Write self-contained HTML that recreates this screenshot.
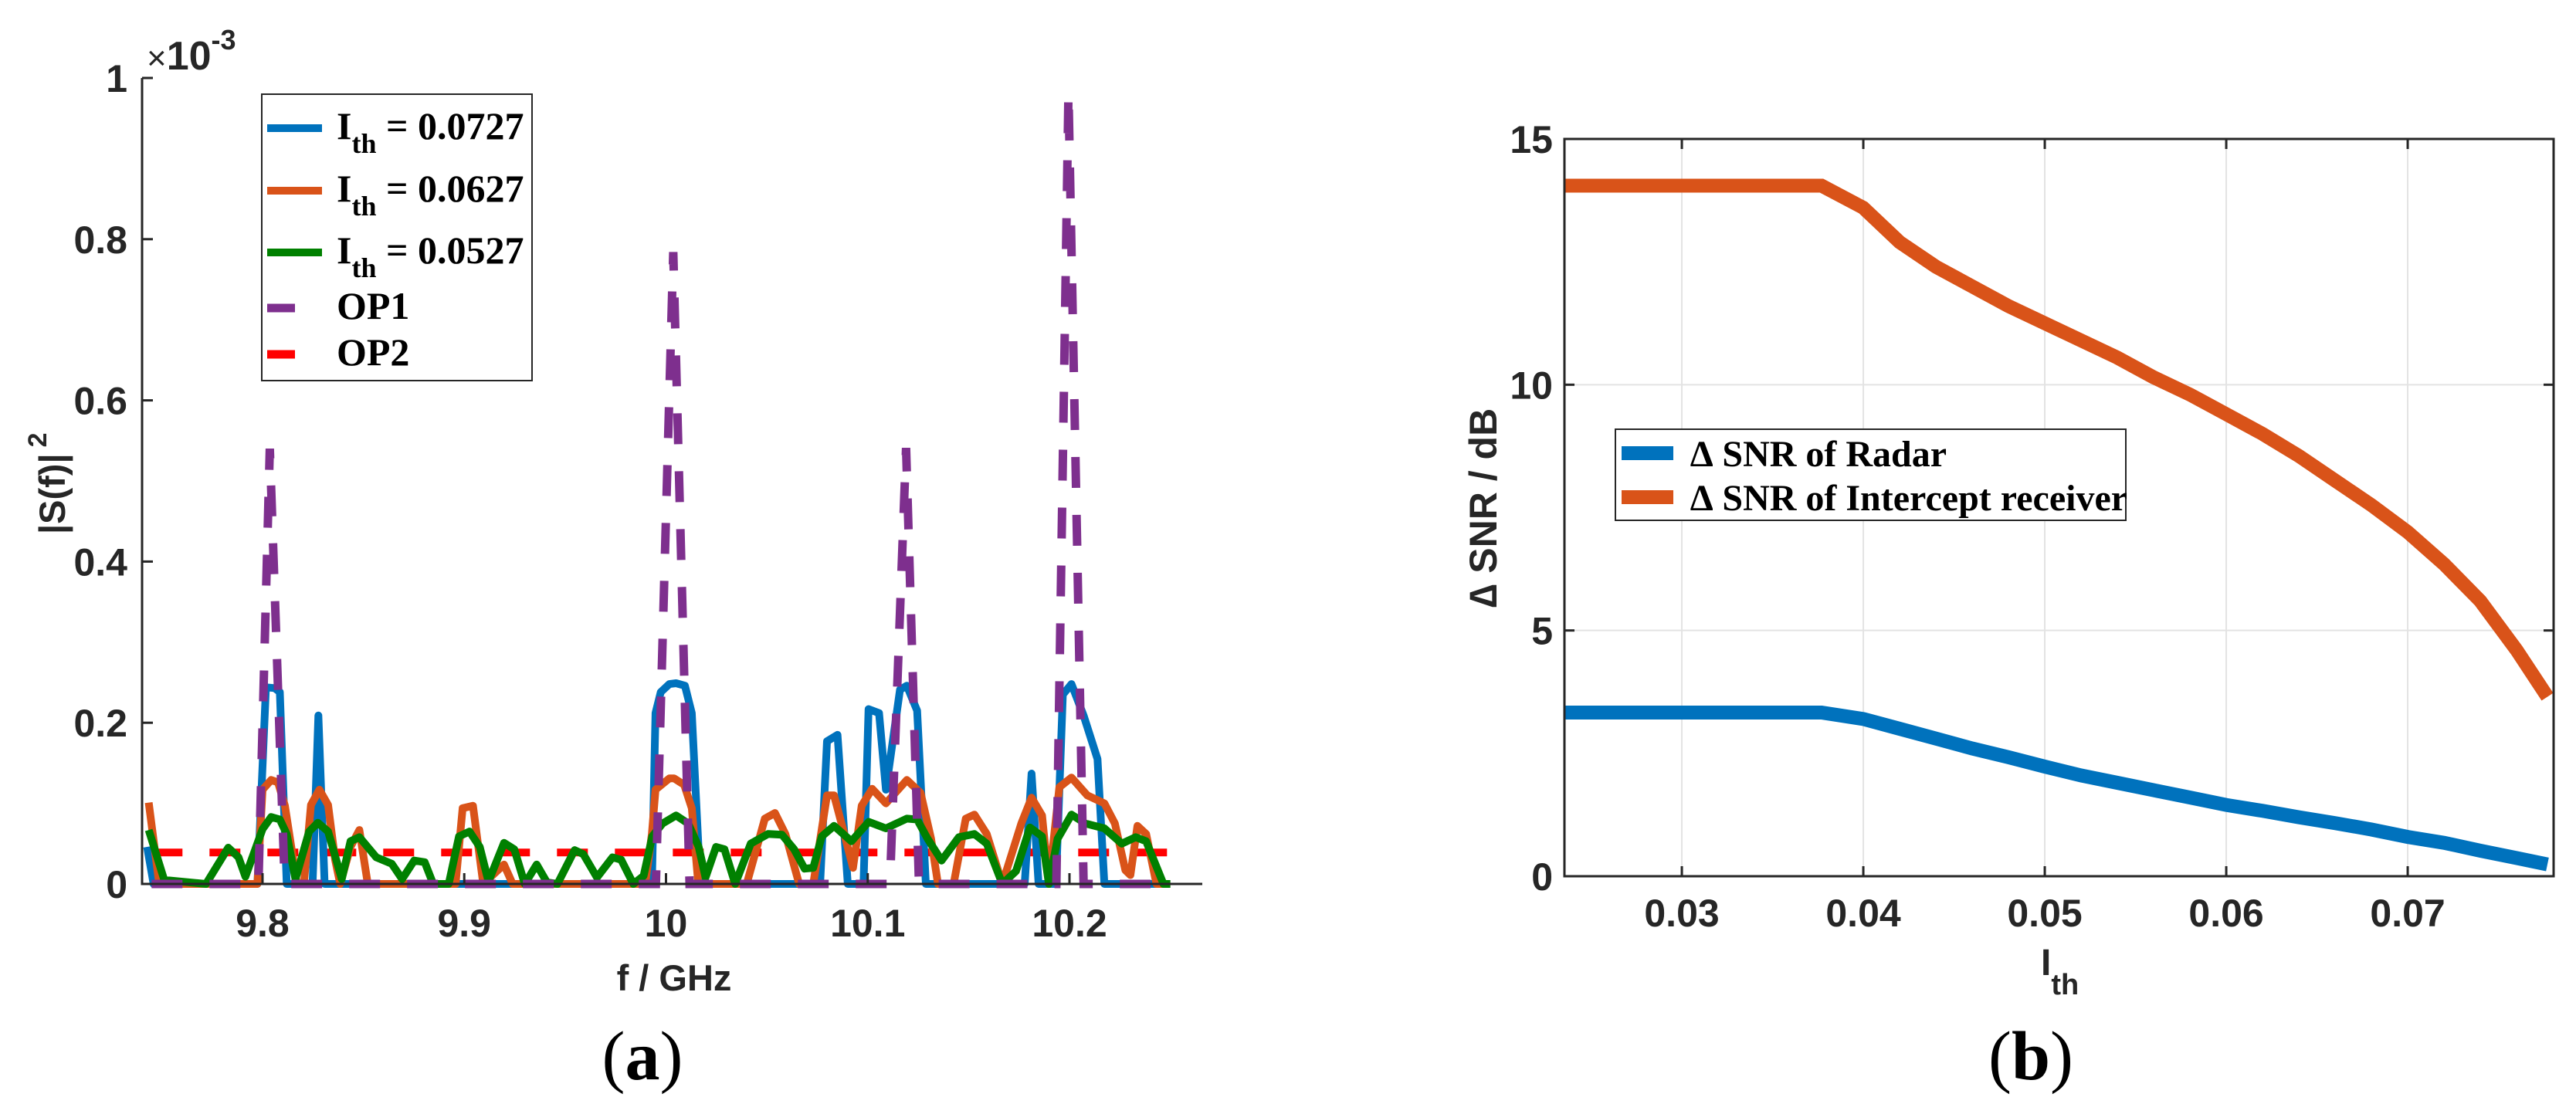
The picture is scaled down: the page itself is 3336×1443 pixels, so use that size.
<!DOCTYPE html>
<html><head><meta charset="utf-8">
<style>
html,body{margin:0;padding:0;background:#fff;}
svg{display:block;}
.tk{font-family:"Liberation Sans",Arial,sans-serif;font-weight:bold;font-size:50px;fill:#262626;}
.lg{font-family:"Liberation Serif","Times New Roman",serif;font-weight:bold;font-size:50px;fill:#000;}
.cap{font-family:"Liberation Serif","Times New Roman",serif;font-size:90px;fill:#000;}
</style></head>
<body>
<svg id="fig" width="3336" height="1443" viewBox="0 0 3336 1443" xmlns="http://www.w3.org/2000/svg">
<g id="pa"></g>
<g id="pb"></g>
<text class="cap" x="832" y="1398" text-anchor="middle">(<tspan font-weight="bold">a</tspan>)</text>
<text class="cap" x="2630" y="1398" text-anchor="middle">(<tspan font-weight="bold">b</tspan>)</text>
</svg>
<script>
// ---- Panel (a) data (f in GHz, |S(f)|^2 in 1e-3) ----
const aXTicks = [9.8, 9.9, 10, 10.1, 10.2];
const aXTickLabels = ["9.8", "9.9", "10", "10.1", "10.2"];
const aYTicks = [0, 0.2, 0.4, 0.6, 0.8, 1];
const aYTickLabels = ["0", "0.2", "0.4", "0.6", "0.8", "1"];
const blueF = [9.7428,9.746,9.7975,9.8017,9.806,9.8086,9.812,9.8248,9.8277,9.8308,9.993,9.9948,9.9974,10.0017,10.005,10.0094,10.0128,10.017,10.0764,10.0798,10.085,10.0901,10.0979,10.1004,10.1056,10.109,10.116,10.1194,10.1245,10.1288,10.1778,10.1812,10.1847,10.1933,10.1967,10.201,10.207,10.2139,10.2173,10.25];
const blueV = [0.046,0,0,0.244,0.243,0.238,0,0,0.209,0,0,0.212,0.238,0.248,0.249,0.246,0.212,0,0,0.177,0.185,0,0,0.217,0.212,0.117,0.241,0.246,0.215,0,0,0.137,0,0,0.235,0.248,0.209,0.155,0,0];
const orangeF = [9.7436,9.7488,9.7975,9.8,9.8043,9.8077,9.8111,9.8171,9.8205,9.824,9.8282,9.8325,9.836,9.8385,9.8436,9.848,9.8522,9.8957,9.8992,9.9043,9.9094,9.9197,9.924,9.9897,9.993,9.9948,10.0017,10.004,10.009,10.0128,10.016,10.04,10.049,10.054,10.0592,10.066,10.073,10.0798,10.0833,10.0884,10.0927,10.097,10.1022,10.109,10.1194,10.1262,10.1314,10.1348,10.1426,10.1486,10.1529,10.159,10.1667,10.1761,10.1812,10.1864,10.1898,10.195,10.201,10.2088,10.2173,10.2225,10.2277,10.2302,10.2337,10.238,10.2431,10.25];
const orangeV = [0.101,0,0,0.117,0.129,0.126,0.097,0,0,0.098,0.117,0.098,0.03,0,0.046,0.067,0,0,0.094,0.097,0,0.024,0,0,0.062,0.117,0.131,0.131,0.123,0.094,0,0,0.081,0.088,0.062,0,0,0.11,0.11,0.062,0.02,0.097,0.118,0.1,0.129,0.113,0.056,0,0,0.081,0.086,0.062,0,0.075,0.107,0.085,0,0.12,0.132,0.11,0.1,0.075,0.017,0.011,0.072,0.062,0,0];
const greenF = [9.7436,9.7513,9.772,9.783,9.7881,9.7915,9.8,9.8043,9.8086,9.812,9.8163,9.8231,9.8274,9.8325,9.8393,9.8436,9.848,9.8564,9.8641,9.8692,9.8752,9.8804,9.8846,9.8923,9.8974,9.9026,9.9077,9.912,9.9197,9.9248,9.93,9.9359,9.941,9.9462,9.9547,9.959,9.9658,9.9735,9.9778,9.9838,9.9889,9.9932,9.9983,10.005,10.011,10.0162,10.0196,10.0248,10.029,10.0343,10.042,10.0506,10.0575,10.0635,10.0687,10.073,10.0772,10.0833,10.0919,10.1005,10.109,10.1194,10.1245,10.1297,10.1366,10.1452,10.1529,10.159,10.1667,10.1735,10.1804,10.1864,10.1898,10.1941,10.201,10.2079,10.2173,10.2259,10.2328,10.238,10.2466,10.25];
const greenV = [0.067,0.005,0,0.045,0.033,0.009,0.068,0.083,0.08,0.062,0.006,0.065,0.076,0.065,0.006,0.053,0.058,0.033,0.025,0.006,0.029,0.027,0,0,0.059,0.065,0.046,0.003,0.051,0.043,0,0.024,0.002,0,0.042,0.037,0.008,0.033,0.03,0,0.01,0.059,0.075,0.085,0.075,0.046,0.008,0.046,0.043,0,0.05,0.062,0.061,0.043,0.019,0.02,0.059,0.072,0.053,0.077,0.069,0.081,0.08,0.056,0.029,0.058,0.062,0.05,0,0.016,0.07,0.059,0,0.056,0.086,0.075,0.069,0.05,0.058,0.053,0,0];
const op1F = [9.745,9.798,9.8036,9.811,9.995,10.0036,10.0117,10.111,10.119,10.1254,10.1935,10.1995,10.207,10.25];
const op1V = [0,0,0.54,0,0,0.784,0,0,0.541,0,0,0.982,0,0];
const op2F = [9.745, 10.25];
const op2V = [0.039, 0.039];

// ---- Panel (b) data ----
const bXTicks = [0.03, 0.04, 0.05, 0.06, 0.07];
const bXTickLabels = ["0.03", "0.04", "0.05", "0.06", "0.07"];
const bYTicks = [0, 5, 10, 15];
const bYTickLabels = ["0", "5", "10", "15"];
const ithVals = [0.0235,0.0377,0.04,0.042,0.044,0.046,0.048,0.05,0.052,0.054,0.056,0.058,0.06,0.062,0.064,0.066,0.068,0.07,0.072,0.074,0.076,0.0777];
const radarSNR = [3.33,3.33,3.2,3.0,2.8,2.6,2.42,2.23,2.05,1.9,1.75,1.6,1.45,1.33,1.2,1.08,0.95,0.8,0.68,0.52,0.37,0.24];
const interceptSNR = [14.05,14.05,13.6,12.9,12.4,12.0,11.6,11.25,10.9,10.55,10.15,9.8,9.4,9.0,8.55,8.05,7.55,7.0,6.35,5.6,4.6,3.65];

const NS = "http://www.w3.org/2000/svg";
function mk(parent, tag, attrs){ const e=document.createElementNS(NS,tag); for(const k in attrs) e.setAttribute(k,attrs[k]); parent.appendChild(e); return e; }
function pts(xs,ys,fx,fy){ return xs.map((x,i)=>fx(x).toFixed(1)+","+fy(ys[i]).toFixed(1)).join(" "); }

// ---------- Panel A ----------
const pa = document.getElementById('pa');
const aL=184, aR=1557, aT=101, aB=1145;
const aXmin=9.7403, aXmax=9.8+(1557-340)/2612.5;
const ax = f => aL + (f-aXmin)/(aXmax-aXmin)*(aR-aL);
const ay = v => aB - v/1.0*(aB-aT);

let l1 = mk(pa,'polyline',{points:pts(op2F,op2V,ax,ay),fill:'none',stroke:'#FF0000','stroke-width':10,'stroke-dasharray':'40 35'});
 
let l2 = mk(pa,'polyline',{points:pts(blueF,blueV,ax,ay),fill:'none',stroke:'#0072BD','stroke-width':10,'stroke-linejoin':'round'});
 
let l3 = mk(pa,'polyline',{points:pts(orangeF,orangeV,ax,ay),fill:'none',stroke:'#D95319','stroke-width':10,'stroke-linejoin':'round'});
 
let l4 = mk(pa,'polyline',{points:pts(greenF,greenV,ax,ay),fill:'none',stroke:'#008000','stroke-width':10,'stroke-linejoin':'round'});
 
let l5 = mk(pa,'polyline',{points:pts(op1F,op1V,ax,ay),fill:'none',stroke:'#7E2F8E','stroke-width':11,'stroke-dasharray':'40 35'});
 

let axA = mk(pa,'path',{d:`M${aL},${aT} L${aL},${aB} L${aR},${aB}`,fill:'none',stroke:'#262626','stroke-width':3});
 
aXTicks.forEach((t,i)=>{
  const x=ax(t);
  const tk=mk(pa,'line',{x1:x,y1:aB,x2:x,y2:aB-14,stroke:'#262626','stroke-width':3});
   
  const tx=mk(pa,'text',{x:x,y:1213,'text-anchor':'middle',class:'tk'}); tx.textContent=aXTickLabels[i];
   
});
aYTicks.forEach((t,i)=>{
  const y=ay(t);
  const tk=mk(pa,'line',{x1:aL,y1:y,x2:aL+14,y2:y,stroke:'#262626','stroke-width':3});
   
  const tx=mk(pa,'text',{x:165,y:y+18,'text-anchor':'end',class:'tk'}); tx.textContent=aYTickLabels[i];
   
});
(function(){
 const g=mk(pa,'text',{x:190,y:90,class:'tk'});
  
 const s1=mk(g,'tspan',{style:'font-weight:normal;font-size:44px'}); s1.textContent='×';
 const s2=mk(g,'tspan',{style:'font-size:52px'}); s2.textContent='10';
 const s3=mk(g,'tspan',{style:'font-size:36px',dy:'-26'}); s3.textContent='-3';
 const xl=mk(pa,'text',{x:873,y:1283,'text-anchor':'middle',class:'tk',style:'font-size:47px'}); xl.textContent='f / GHz';
  
 const yl=mk(pa,'text',{x:0,y:0,'text-anchor':'start',class:'tk',style:'font-size:47px',transform:'translate(84,692) rotate(-90)'});
  
 yl.textContent='|S(f)|';
 const ys=mk(yl,'tspan',{style:'font-size:34px',dx:'8',dy:'-24'}); ys.textContent='2';
 const lg=mk(pa,'g',{});  
 mk(lg,'rect',{x:339,y:122,width:350,height:371,fill:'#fff',stroke:'#262626','stroke-width':2});
 const ent=[['#0072BD','0.0727',166,''],['#D95319','0.0627',247,''],['#008000','0.0527',327,''],['#7E2F8E','OP1',399,'dash'],['#FF0000','OP2',459,'dash']];
 ent.forEach(e=>{
   const row=mk(lg,'g',{});  
   if(e[3]==='dash'){ mk(row,'line',{x1:346,y1:e[2],x2:382,y2:e[2],stroke:e[0],'stroke-width':11}); }
   else { mk(row,'line',{x1:346,y1:e[2],x2:417,y2:e[2],stroke:e[0],'stroke-width':10}); }
   const t=mk(row,'text',{x:436,y:e[2]+14,class:'lg'});
   if(e[3]==='dash'){ t.textContent=e[1]; }
   else { t.textContent='I'; const s=mk(t,'tspan',{style:'font-size:36px',dy:'18'}); s.textContent='th'; const r=mk(t,'tspan',{dy:'-18'}); r.textContent=' = '+e[1]; }
 });
})();

// ---------- Panel B ----------
const pb=document.getElementById('pb');
const bL=2026, bR=3307, bT=180, bB=1135;
const bXmin=0.02353, bXmax=0.07804;
const bx=v=>bL+(v-bXmin)/(bXmax-bXmin)*(bR-bL);
const by=v=>bB-v/15*(bB-bT);
bXTicks.forEach(t=>{const g=mk(pb,'line',{x1:bx(t),y1:bT,x2:bx(t),y2:bB,stroke:'#e3e3e3','stroke-width':2});
  });
bYTicks.forEach(t=>{const g=mk(pb,'line',{x1:bL,y1:by(t),x2:bR,y2:by(t),stroke:'#e3e3e3','stroke-width':2});
  });
let r1=mk(pb,'polyline',{points:pts(ithVals,interceptSNR,bx,by),fill:'none',stroke:'#D95319','stroke-width':18});
 
let r2=mk(pb,'polyline',{points:pts(ithVals,radarSNR,bx,by),fill:'none',stroke:'#0072BD','stroke-width':18});
 
let bx0=mk(pb,'rect',{x:bL,y:bT,width:bR-bL,height:bB-bT,fill:'none',stroke:'#262626','stroke-width':3});
 
bXTicks.forEach((t,i)=>{
  const x=bx(t);
  mk(pb,'line',{x1:x,y1:bB,x2:x,y2:bB-13,stroke:'#262626','stroke-width':3});
  mk(pb,'line',{x1:x,y1:bT,x2:x,y2:bT+13,stroke:'#262626','stroke-width':3});
  const tx=mk(pb,'text',{x:x,y:1200,'text-anchor':'middle',class:'tk'}); tx.textContent=bXTickLabels[i];
   
});
bYTicks.forEach((t,i)=>{
  const y=by(t);
  mk(pb,'line',{x1:bL,y1:y,x2:bL+13,y2:y,stroke:'#262626','stroke-width':3});
  mk(pb,'line',{x1:bR,y1:y,x2:bR-13,y2:y,stroke:'#262626','stroke-width':3});
  const tx=mk(pb,'text',{x:2011,y:y+18,'text-anchor':'end',class:'tk'}); tx.textContent=bYTickLabels[i];
   
});
(function(){
 const xl=mk(pb,'text',{x:2643,y:1263,class:'tk',style:'font-size:48px'}); xl.textContent='I';
  
 const s=mk(xl,'tspan',{style:'font-size:38px',dy:'25'}); s.textContent='th';
 const yl=mk(pb,'text',{x:0,y:0,'text-anchor':'middle',class:'tk',style:'font-size:50px',transform:'translate(1938,658) rotate(-90)'});
 yl.textContent='∆ SNR / dB';
  
 const lg=mk(pb,'g',{});  
 mk(lg,'rect',{x:2092,y:556,width:661,height:118,fill:'#fff',stroke:'#262626','stroke-width':2});
 [['#0072BD','∆ SNR of Radar',587],['#D95319','∆ SNR of Intercept receiver',644]].forEach(e=>{
   const row=mk(lg,'g',{});  
   mk(row,'line',{x1:2100,y1:e[2],x2:2167,y2:e[2],stroke:e[0],'stroke-width':18});
   const t=mk(row,'text',{x:2189,y:e[2]+17,class:'lg',style:'font-size:48px'}); t.textContent=e[1];
 });
})();
</script>
</body></html>
